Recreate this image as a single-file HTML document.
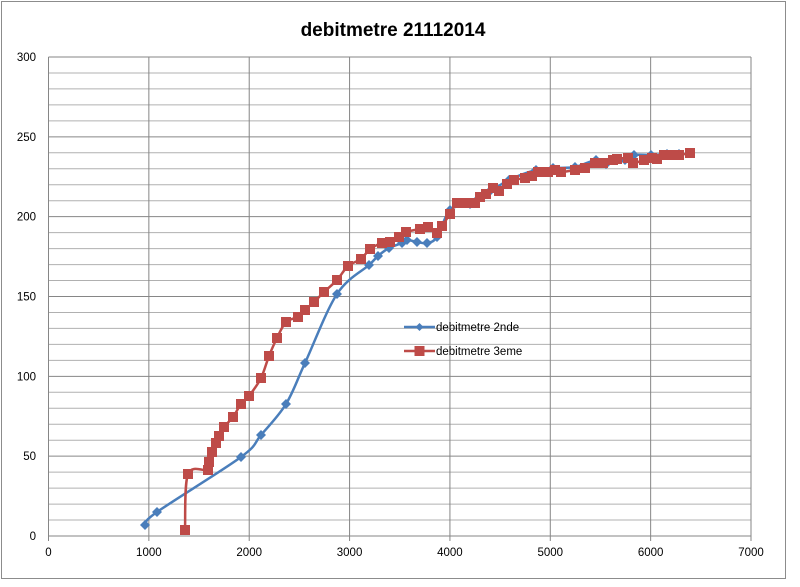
<!DOCTYPE html>
<html><head><meta charset="utf-8"><style>
body{margin:0;background:#fff;width:800px;height:582px;overflow:hidden}
text{font-family:"Liberation Sans",sans-serif;font-size:11.5px;fill:#000}
</style></head><body>
<svg id="s" width="800" height="582" xmlns="http://www.w3.org/2000/svg">
<rect x="1.5" y="1.5" width="784" height="577" fill="#fff" stroke="#8c8c8c"/>
<text x="393" y="36" text-anchor="middle" style="font-size:19px;font-weight:bold">debitmetre 21112014</text>
<g id="grid"></g>
<g id="series"></g>
<g>
<line x1="404" y1="327" x2="435" y2="327" stroke="#4a7ebb" stroke-width="2.5"/>
<path d="M419.5 323l4 4-4 4-4-4z" fill="#4a7ebb"/>
<text x="436" y="331">debitmetre 2nde</text>
<line x1="404" y1="351" x2="435" y2="351" stroke="#be4b48" stroke-width="2.5"/>
<rect x="414.5" y="346" width="10" height="10" fill="#be4b48"/>
<text x="436" y="355">debitmetre 3eme</text>
</g>
</svg>
<script>
var g=document.getElementById('grid'),h='';
var L=48.5,R=751,T=57,B=536;
for(var i=0;i<=30;i++){var y=T+(B-T)*i/30;var c=i%5==0?'#868686':'#b0b0b0';
h+='<line x1="'+L+'" x2="'+R+'" y1="'+y+'" y2="'+y+'" stroke="'+c+'"/>';
if(i%5==0)h+='<text x="36" y="'+(y+4)+'" text-anchor="end">'+(300-i*10)+'</text>';}
for(var j=0;j<=7;j++){var x=L+(R-L)*j/7;
h+='<line x1="'+x+'" x2="'+x+'" y1="'+T+'" y2="'+(B+5)+'" stroke="#868686"/>';
h+='<text x="'+x+'" y="'+(B+20)+'" text-anchor="middle">'+(j*1000)+'</text>';}
g.innerHTML=h;
function sp(p){var d='M'+p[0][0]+' '+p[0][1];for(var i=0;i<p.length-1;i++){var a=p[i-1]||p[i],b=p[i],c=p[i+1],e=p[i+2]||c,t=6;
d+='C'+(b[0]+(c[0]-a[0])/t)+' '+(b[1]+(c[1]-a[1])/t)+' '+(c[0]-(e[0]-b[0])/t)+' '+(c[1]-(e[1]-b[1])/t)+' '+c[0]+' '+c[1];}return d;}
var blue=[[145,525],[157,512],[241,457],[261,435],[286,404],[305,363],[337,294],[369,265],[378,256],[389,248],[402,243],[407,240],[417,242],[427,243],[437,237],[450,210],[470,204],[479,198],[488,193],[509,180],[536,170],[553,168],[575,167],[596,160],[606,164],[625,160],[634,155],[651,155],[667,154],[679,154]];
var red=[[185,530],[188,474],[208,470],[209,462],[212,452],[216,443],[219,436],[224,427],[233,417],[241,404],[249,396],[261,378],[269,356],[277,338],[286,322],[298,317],[305,310],[314,302],[324,292],[337,280],[348,266],[361,259],[370,249],[382,243],[390,242],[399,237],[406,232],[420,229],[428,227],[437,233],[442,226],[450,214],[457,203],[466,203],[475,203],[480,197],[486,194],[493,188],[499,191],[507,184],[514,180],[525,178],[532,176],[538,172],[548,172],[555,170],[561,172],[575,170],[585,168],[595,163],[603,163],[613,160],[617,159],[628,158],[633,163],[644,160],[652,158],[657,159],[664,155],[671,155],[679,155],[690,153]];
var s='<path d="'+sp(blue)+'" fill="none" stroke="#4a7ebb" stroke-width="2.5"/>';
blue.forEach(function(p){s+='<path d="M'+p[0]+' '+(p[1]-5)+'l5 5-5 5-5-5z" fill="#4a7ebb"/>';});
s+='<path d="'+sp(red)+'" fill="none" stroke="#be4b48" stroke-width="2.5"/>';
red.forEach(function(p){s+='<rect x="'+(p[0]-5)+'" y="'+(p[1]-5)+'" width="10" height="10" fill="#be4b48"/>';});
document.getElementById('series').innerHTML=s;
</script>
</body></html>
